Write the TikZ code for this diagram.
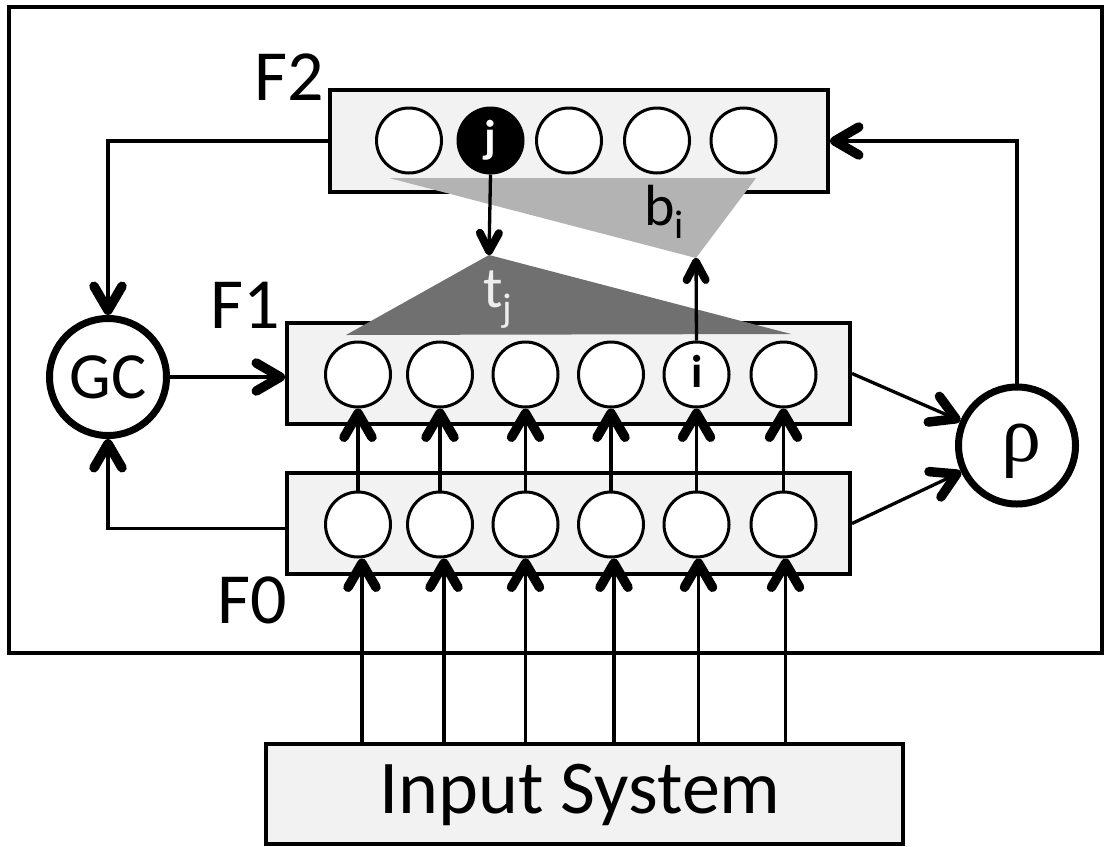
\documentclass[tikz,border=0pt]{standalone}
\usepackage{fontspec}
\setmainfont{Carlito}
\newfontfamily\greekfont{Liberation Serif}
\usetikzlibrary{arrows.meta}
\definecolor{boxfill}{HTML}{F2F2F2}
\definecolor{lighttri}{HTML}{B3B3B3}
\definecolor{darktri}{HTML}{707070}
\definecolor{tjtext}{HTML}{EEEEEE}
\begin{document}
\begin{tikzpicture}[x=1pt,y=-1pt,
  layerbox/.style={rectangle, draw=black, line width=4pt, fill=boxfill, inner sep=0pt},
  unit/.style={circle, draw=black, line width=3pt, fill=white, minimum size=65pt, inner sep=0pt, font=\bfseries\fontsize{46}{46}\selectfont},
  ctrl/.style={circle, draw=black, line width=7pt, fill=white, minimum size=117pt, inner sep=0pt},
  conn/.style={line width=3.3pt},
  bigarrow/.style={conn, -{Straight Barb[length=24pt,width=28pt,line width=9.5pt,round]}},
  smallarrow/.style={conn, -{Straight Barb[length=18pt,width=19pt,line width=8pt,round]}},
  flabel/.style={anchor=base, inner sep=0pt, font=\fontsize{72}{72}\selectfont},
  sublabel/.style={anchor=base west, inner sep=0pt, font=\fontsize{58}{58}\selectfont},
]
\useasboundingbox (0,0) rectangle (1107,846);
% outer frame
\node[draw, line width=4pt, minimum width=1093pt, minimum height=646pt, inner sep=0pt] (frame) at (555.5,330) {};
% layer boxes
\node[layerbox, minimum width=498pt, minimum height=102pt] (F2) at (579,141) {};
\node[layerbox, minimum width=563pt, minimum height=101pt] (F1) at (568.5,373.5) {};
\node[layerbox, minimum width=563pt, minimum height=101pt] (F0) at (568.5,523.5) {};
\node[layerbox, minimum width=637pt, minimum height=100pt] (Input) at (584.5,794) {};
\node[anchor=base, inner sep=0pt, font=\fontsize{76}{76}\selectfont] (inputtext) at (580,813) {Input System};
% weight triangles
\coordinate (tjapex) at (489,255);
\coordinate (bibot) at (696,258);
\fill[lighttri] (389,178) -- (756,178) -- (bibot) -- cycle;
\fill[darktri] (346,335) -- (tjapex) -- (791,334) -- cycle;
% F2 units
\node[unit] (F2c1) at (409,140.5) {};
\node[unit, fill=black, text=white] (F2c2) at (490.5,140.5) {j};
\node[unit] (F2c3) at (569,140.5) {};
\node[unit] (F2c4) at (657,140.5) {};
\node[unit] (F2c5) at (743.5,140.5) {};
% F1 and F0 units
\foreach \x [count=\k] in {358,440,525.5,611,696.5,783.5} {
  \node[unit] (F1c\k) at (\x,374.5) {};
  \node[unit] (F0c\k) at (\x,524.5) {};
}
\node[inner sep=0pt, font=\bfseries\fontsize{46}{46}\selectfont] (ilbl) at (697,371) {i};
% labels
\node[flabel] (F2lbl) at (289,100) {F2};
\node[flabel] (F1lbl) at (245,328) {F1};
\node[flabel] (F0lbl) at (252.5,623) {F0};
\node[sublabel, text=tjtext] (tj) at (483,307) {t\raisebox{-14pt}{\fontsize{40}{40}\selectfont j}};
\node[sublabel] (bi) at (644,225) {b\raisebox{-13pt}{\fontsize{40}{40}\selectfont i}};
% control nodes
\node[ctrl, font=\fontsize{66}{66}\selectfont] (GC) at (108,377) {GC};
\node[ctrl] (rho) at (1017,445.5) {};
\node[inner sep=0pt, font=\greekfont\fontsize{80}{80}\selectfont] (rholbl) at (1021,451) {ρ};
% connectors
\draw[bigarrow] (F2.west) -| (GC.north);
\draw[bigarrow] (GC.east) -- (F1.west |- GC.east);
\draw[bigarrow] ([yshift=-5pt]F0.west) -| (GC.south);
\draw[bigarrow] (F1.east) -- (rho);
\draw[bigarrow] (F0.east) -- (rho);
\draw[bigarrow] (rho.north) |- (F2.east);
\foreach \k in {1,...,6} \draw[bigarrow] (F0c\k.north) -- (F1c\k.south);
\foreach \k/\d in {1/4,2/4,3/0,4/3,5/2,6/2}
  \draw[bigarrow] ([xshift=\d pt]F0c\k.south |- Input.north) -- ([xshift=\d pt]F0c\k.south);
\draw[smallarrow] (F2c2.south) -- (tjapex);
\draw[smallarrow] (F1c5.north) -- (bibot);
\end{tikzpicture}
\end{document}
